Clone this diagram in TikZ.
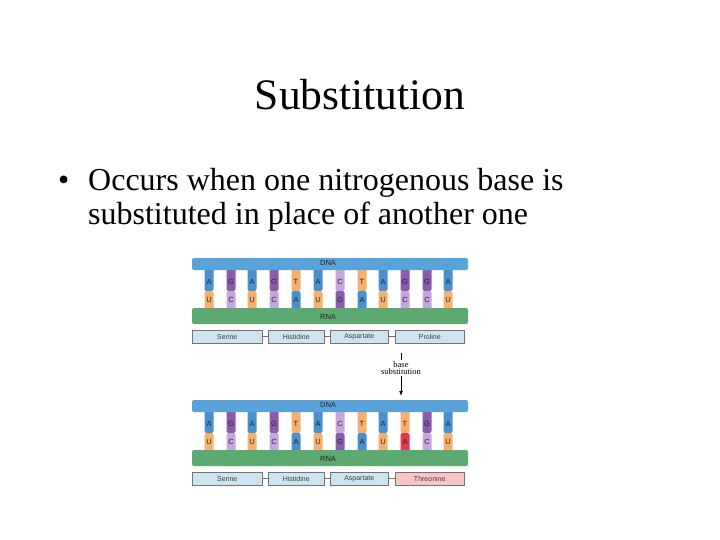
\documentclass[tikz,border=0pt]{standalone}
\usepackage{fontspec}
\usetikzlibrary{arrows.meta}
\setmainfont{Liberation Serif}
\setsansfont{Liberation Sans}
\definecolor{bA}{HTML}{4A90CC}
\definecolor{bG}{HTML}{8A5CAA}
\definecolor{bT}{HTML}{F4B06C}
\definecolor{bC}{HTML}{C4A6DC}
\definecolor{bR}{HTML}{E23A48}
\definecolor{dna}{HTML}{5AA2DA}
\definecolor{rna}{HTML}{5CAA72}
\definecolor{box}{HTML}{CDE4F0}
\definecolor{pinkbox}{HTML}{F8C4C4}
\tikzset{
  lbl/.style={font=\sffamily\fontsize{7.5}{8}\selectfont,text=black!85,inner sep=0pt},
  aabox/.style={draw=black!55,line width=0.5pt,fill=box,minimum height=13pt,inner sep=0pt,font=\sffamily\fontsize{7}{8}\selectfont,text=black!75,anchor=west},
}
\newcommand{\panel}[6]{%
 \begin{scope}[yshift=-#1pt]
  \foreach \x/\d/\r [count=\i] in {#2} {
    \fill[\d,rounded corners=2pt] (\x-4.5,-266) rectangle (\x+4.5,-291);
    \fill[\r,rounded corners=2pt] (\x-4.5,-291) rectangle (\x+4.5,-314);
  }
  \fill[dna,rounded corners=2pt] (192,-258) rectangle (468,-270);
  \fill[rna,rounded corners=2pt] (192,-308) rectangle (468,-324);
  \node[lbl] (#6dna) at (328,-263) {DNA};
  \node[lbl] (#6rna) at (328,-317) {RNA};
  \foreach \x/\t in {#3} \node[lbl] at (\x,-282) {\t};
  \node[aabox,minimum width=70pt] (#6s) at (192,-336.5) {Serine};
  \node[aabox,minimum width=56pt] (#6h) at (268,-336.5) {Histidine};
  \node[aabox,minimum width=58pt] (#6a) at (330,-336.5) {Aspartate};
  \node[aabox,minimum width=69pt,fill=#4] (#6p) at (395,-336.5) {#5};
  \draw[black!55] (#6s) -- (#6h); \draw[black!55] (#6h) -- (#6a); \draw[black!55] (#6a) -- (#6p);
 \end{scope}}
\begin{document}
\begin{tikzpicture}[x=1pt,y=1pt]
\useasboundingbox (0,0) rectangle (720,-540);
\node[font=\fontsize{43.5}{48}\selectfont] (title) at (360,-95) {Substitution};
\node[font=\fontsize{32}{36}\selectfont,anchor=west,inner sep=0pt] (b) at (58,-183) {•};
\node[font=\fontsize{32}{36}\selectfont,anchor=west,inner sep=0pt] (l1) at (88,-183) {Occurs when one nitrogenous base is};
\node[font=\fontsize{32}{36}\selectfont,anchor=west,inner sep=0pt] (l2) at (88,-217) {substituted in place of another one};
\panel{0}{209/bA/bT,231/bG/bC,252/bA/bT,274/bG/bC,296/bT/bA,318/bA/bT,340/bC/bG,362/bT/bA,383/bA/bT,405/bG/bC,427/bG/bC,448/bA/bT}{209/A,231/G,252/A,274/G,296/T,318/A,340/C,362/T,383/A,405/G,427/G,448/A}{box}{Proline}{p}
\foreach \x/\t in {209/U,231/C,252/U,274/C,296/A,318/U,340/G,362/A,383/U,405/C,427/C,448/U} \node[lbl] at (\x,-300) {\t};
\panel{142}{209/bA/bT,231/bG/bC,252/bA/bT,274/bG/bC,296/bT/bA,318/bA/bT,340/bC/bG,362/bT/bA,383/bA/bT,405/bT/bR,427/bG/bC,448/bA/bT}{209/A,231/G,252/A,274/G,296/T,318/A,340/C,362/T,383/A,405/T,427/G,448/A}{pinkbox}{Threonine}{q}
\foreach \x/\t in {209/U,231/C,252/U,274/C,296/A,318/U,340/G,362/A,383/U,405/A,427/C,448/U} \node[lbl] at (\x,-442) {\t};
\node[font=\fontsize{8.5}{9}\selectfont,align=center,inner sep=1pt] (sub) at (401,-368) {base\\[-2pt]substitution};
\coordinate (top) at (401,-353);
\draw[line width=0.8pt] (top) -- (sub.north);
\coordinate (end) at (401,-396);
\draw[-{Latex[length=5pt]},line width=0.8pt] (sub.south) -- (end);
\end{tikzpicture}
\end{document}
